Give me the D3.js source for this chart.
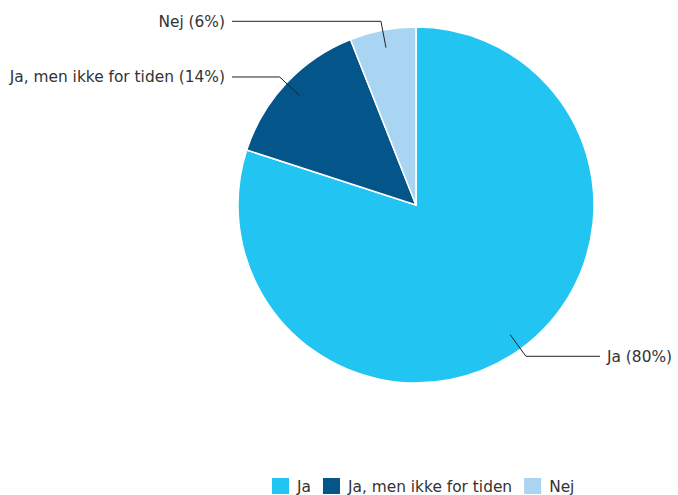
<!DOCTYPE html>
<html>
<head>
<meta charset="utf-8">
<script src="https://cdn.jsdelivr.net/npm/d3@7"></script>
<style>
  body { margin: 0; background: #fff; }
  text { font-family: "DejaVu Sans", Verdana, sans-serif; fill: #333; }
</style>
</head>
<body>
<div id="chart"></div>
<script>
// data
var categories = ["Ja", "Ja, men ikke for tiden", "Nej"];
var values = [80, 14, 6];
var colors = ["#22c4f2", "#03558a", "#a9d5f3"];

var W = 678, H = 495;
var cx = 416, cy = 205, r = 178;

var svg = d3.select("#chart")
  .append("svg")
  .attr("width", W)
  .attr("height", H);

var g = svg.append("g")
  .attr("transform", "translate(" + cx + "," + cy + ")");

var pie = d3.pie().sort(null).value(function(d) { return d.v; });
var arc = d3.arc().innerRadius(0).outerRadius(r);

var data = categories.map(function(c, i) { return {name: c, v: values[i], color: colors[i]}; });
var arcs = pie(data);

g.selectAll("path.slice")
  .data(arcs)
  .enter()
  .append("path")
  .attr("class", "slice")
  .attr("d", arc)
  .style("fill", function(d) { return d.data.color; })
  .style("stroke", "#fff")
  .style("stroke-width", 1.5);

// leader lines + labels
function pt(a, rad) { return [Math.sin(a) * rad, -Math.cos(a) * rad]; }
var leftX = 232 - cx, rightX = 600 - cx;

arcs.forEach(function(d) {
  var mid = (d.startAngle + d.endAngle) / 2;
  var p1 = pt(mid, r * 0.9);
  var p2 = pt(mid, r + 9);
  var right = Math.sin(mid) > 0;
  var p3 = [right ? rightX : leftX, p2[1]];
  g.append("polyline")
    .attr("points", [p1, p2, p3].map(function(p) { return p.join(","); }).join(" "))
    .style("fill", "none")
    .style("stroke", "#222")
    .style("stroke-width", 1);
  g.append("text")
    .attr("x", right ? p3[0] + 7 : p3[0] - 7)
    .attr("y", p3[1])
    .attr("dy", "0.35em")
    .attr("text-anchor", right ? "start" : "end")
    .style("font-size", "15.4px")
    .text(d.data.name + " (" + d.data.v + "%)");
});

// legend
var legend = svg.append("g").attr("transform", "translate(272,478)");
var lx = 0;
data.forEach(function(d) {
  var item = legend.append("g").attr("transform", "translate(" + lx + ",0)");
  item.append("rect")
    .attr("width", 17).attr("height", 16)
    .style("fill", d.color);
  var t = item.append("text")
    .attr("x", 25).attr("y", 9)
    .attr("dy", "0.35em")
    .style("font-size", "15.4px")
    .text(d.name);
  lx += 25 + t.node().getComputedTextLength() + 12;
});
</script>
</body>
</html>
